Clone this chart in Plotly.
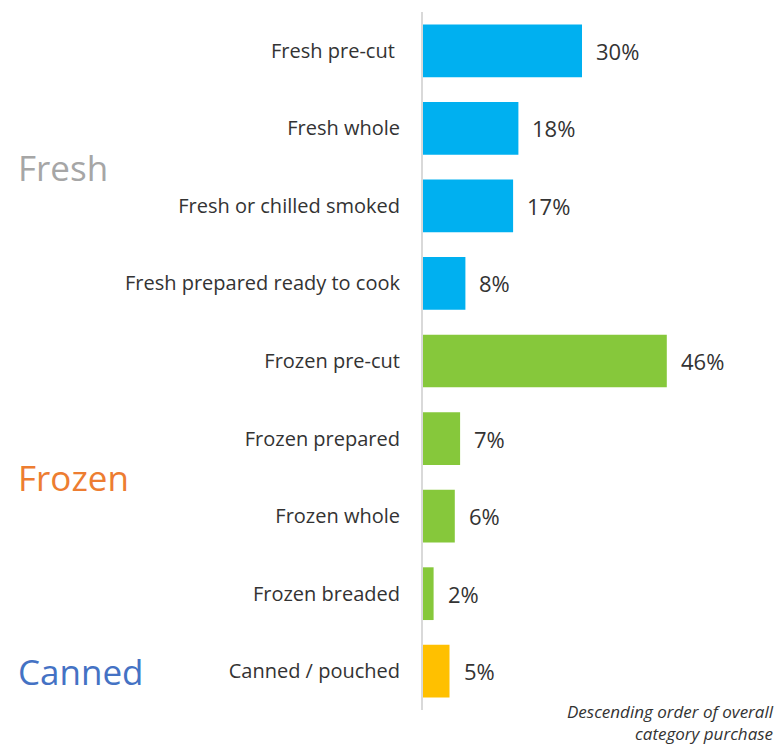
import plotly.graph_objects as go

# Seafood purchase share by category, listed top to bottom
categories = [
    "Fresh pre-cut ",
    "Fresh whole",
    "Fresh or chilled smoked",
    "Fresh prepared ready to cook",
    "Frozen pre-cut",
    "Frozen prepared",
    "Frozen whole",
    "Frozen breaded",
    "Canned / pouched",
]
values = [30, 18, 17, 8, 46, 7, 6, 2, 5]
groups = ["Fresh"] * 4 + ["Frozen"] * 4 + ["Canned"]

group_names = ["Fresh", "Frozen", "Canned"]
bar_colors = {"Fresh": "#00B0F0", "Frozen": "#86C83B", "Canned": "#FFC000"}
group_label_colors = {"Fresh": "#A6A6A6", "Frozen": "#ED7D31", "Canned": "#4472C4"}

FONT = "Open Sans"
TEXT = "#333333"

fig = go.Figure(
    go.Bar(
        x=values,
        y=categories,
        orientation="h",
        marker=dict(color=[bar_colors[g] for g in groups], line=dict(width=0)),
        hoverinfo="skip",
    )
)

# value labels to the right of each bar
for cat, v in zip(categories, values):
    fig.add_annotation(
        x=v, y=cat, xref="x", yref="y",
        text=f"{v}%", showarrow=False,
        xanchor="left", xshift=12,
        font=dict(family=FONT, size=22, color=TEXT),
    )

# big group headings, centred on each group's rows
for name in group_names:
    idx = [i for i, g in enumerate(groups) if g == name]
    mid = (idx[0] + idx[-1]) / 2
    fig.add_annotation(
        x=-1.535, y=mid, xref="paper", yref="y",
        text=name, showarrow=False, xanchor="left", yanchor="middle",
        font=dict(family=FONT, size=35, color=group_label_colors[name]),
    )

fig.add_annotation(
    x=1.333, y=0.017, xref="paper", yref="paper",
    text="<i>Descending order of overall<br>category purchase</i>",
    showarrow=False, xanchor="right", yanchor="top", align="right",
    font=dict(family=FONT, size=17, color=TEXT),
)

fig.update_layout(
    width=781, height=749,
    margin=dict(l=423, r=93, t=12, b=39),
    paper_bgcolor="white", plot_bgcolor="white",
    bargap=0.32, showlegend=False,
    font=dict(family=FONT, color=TEXT),
)
fig.update_xaxes(visible=False, range=[0, 50])
fig.update_yaxes(
    autorange="reversed",
    showline=True, linecolor="#D9D9D9", linewidth=2,
    showgrid=False, zeroline=False, ticks="",
    ticklabelstandoff=17,
    tickfont=dict(family=FONT, size=20, color=TEXT),
)

fig.write_html("out.html")
